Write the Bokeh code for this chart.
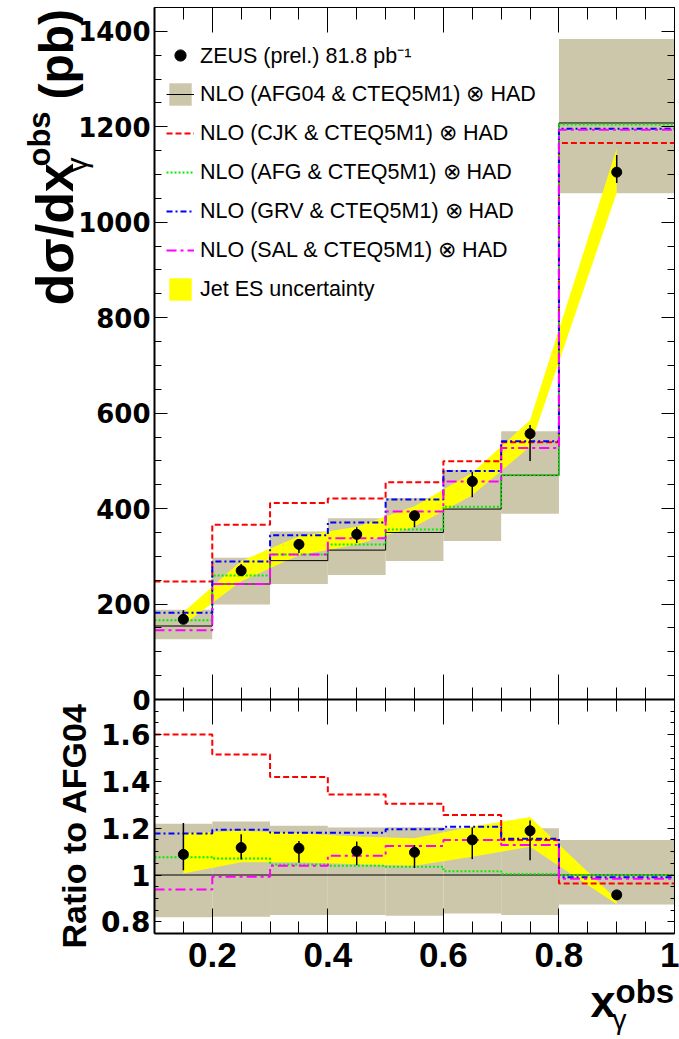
import math
from bokeh.plotting import figure
from bokeh.models import (Range1d, LinearAxis, SingleIntervalTicker, Label, Legend,
                          LegendItem, CustomJSTickFormatter)
from bokeh.embed import file_html
from bokeh.resources import INLINE

# ---------------- data ----------------
bin_edges = [0.1, 0.2, 0.3, 0.4, 0.5, 0.6, 0.7, 0.8, 1.0]
bin_centers = [0.15, 0.25, 0.35, 0.45, 0.55, 0.65, 0.75, 0.9]

zeus = [168, 270, 325, 346, 385, 457, 557, 1105]
zeus_err_up = [19, 14, 11, 15, 10, 20, 18, 36]
zeus_err_dn = [9, 12, 18, 18, 24, 33, 57, 23]

nlo_afg04 = [154, 242, 291, 313, 350, 399, 470, 1208]
nlo_afg04_up = [188, 297, 352, 380, 422, 481, 562, 1384]
nlo_afg04_dn = [126, 199, 242, 261, 290, 332, 389, 1061]
nlo_cjk = [247, 366, 412, 421, 455, 499, 539, 1166]
nlo_afg = [166, 260, 304, 325, 356, 404, 470, 1205]
nlo_grv = [182, 289, 344, 371, 419, 479, 541, 1196]
nlo_sal = [145, 242, 304, 338, 394, 457, 527, 1194]

jes_up = [183, 290, 342, 362, 405, 475, 585, 1155]
jes_dn = [156, 248, 302, 325, 362, 428, 530, 1062]

ratio_zeus = [1.088, 1.117, 1.114, 1.102, 1.097, 1.150, 1.189, 0.915]
ratio_err_up = [0.134, 0.057, 0.031, 0.041, 0.031, 0.053, 0.044, 0.010]
ratio_err_dn = [0.068, 0.051, 0.062, 0.060, 0.067, 0.082, 0.126, 0.010]
ratio_afg04 = [1.0, 1.0, 1.0, 1.0, 1.0, 1.0, 1.0, 1.0]
ratio_afg04_up = [1.219, 1.229, 1.210, 1.203, 1.204, 1.200, 1.200, 1.150]
ratio_afg04_dn = [0.819, 0.822, 0.829, 0.829, 0.826, 0.836, 0.829, 0.874]
ratio_cjk = [1.600, 1.515, 1.419, 1.344, 1.304, 1.256, 1.150, 0.964]
ratio_afg = [1.076, 1.070, 1.045, 1.039, 1.035, 1.016, 1.004, 1.000]
ratio_grv = [1.177, 1.193, 1.181, 1.181, 1.196, 1.206, 1.155, 0.990]
ratio_sal = [0.938, 0.993, 1.039, 1.082, 1.124, 1.150, 1.128, 0.984]
ratio_jes_up = [1.178, 1.189, 1.178, 1.164, 1.157, 1.207, 1.248, 0.895]
ratio_jes_dn = [1.006, 1.054, 1.054, 1.046, 1.039, 1.078, 1.121, 0.875]

legend_labels = [
    "ZEUS (prel.) 81.8 pb\u207b\u00b9",
    "NLO (AFG04 & CTEQ5M1) \u2297 HAD",
    "NLO (CJK & CTEQ5M1) \u2297 HAD",
    "NLO (AFG & CTEQ5M1) \u2297 HAD",
    "NLO (GRV & CTEQ5M1) \u2297 HAD",
    "NLO (SAL & CTEQ5M1) \u2297 HAD",
    "Jet ES uncertainty",
]
ytitle_main, ytitle_sup, ytitle_sub, ytitle_unit = "d\u03c3/dx", "obs", "\u03b3", "(pb)"
xtitle_main, xtitle_sup, xtitle_sub = "x", "obs", "\u03b3"
ratio_title = "Ratio to AFG04"

# ---------------- styles / geometry ----------------
TAN = "#ccc6aa"
YELLOW = "#ffff00"
SANS = "Liberation Sans"
TICKFONT = "DejaVu Sans"

W, H = 679, 1039
X_LO, X_HI = 0.1, 1.0
TOP_LO, TOP_HI = 0, 1450
R_LO, R_HI = 0.75, 1.75

PX_L, PX_R = 154, 674          # frame of both panels, horizontally
PY_TOP, PY_MID, PY_BOT = 7, 699, 933

PX_PER_X = (PX_R - PX_L) / (X_HI - X_LO)
X_START = X_LO - PX_L / PX_PER_X
X_END = X_START + W / PX_PER_X
PX_PER_Y = (PY_MID - PY_TOP) / (TOP_HI - TOP_LO)
Y_START = TOP_LO - (H - PY_MID) / PX_PER_Y
Y_END = TOP_LO + PY_MID / PX_PER_Y
PX_PER_R = (PY_BOT - PY_MID) / (R_HI - R_LO)
R_START = R_LO - (H - PY_BOT) / PX_PER_R
R_END = R_HI + PY_MID / PX_PER_R


def dx(px):
    return X_START + px / PX_PER_X


def dy(py):
    return TOP_LO + (PY_MID - py) / PX_PER_Y


styles = {
    "afg04": dict(line_color="black", line_width=1),
    "cjk": dict(line_color="#ff0000", line_width=2, line_dash="6 3"),
    "afg": dict(line_color="#00ee00", line_width=2, line_dash="2 2"),
    "grv": dict(line_color="#0000ff", line_width=2, line_dash="6 3 2 3"),
    "sal": dict(line_color="#ff00ff", line_width=2, line_dash="10 4 3 4"),
}

dec_code = "var s = tick.toFixed(1); return s.endsWith('.0') ? s.slice(0, -2) : s;"


def step_y(vals):
    return list(vals) + [vals[-1]]


def make_axis(ticker, fixed, bounds, major_in, minor_in, width=1, code="return '';", rng="default"):
    ax = LinearAxis(ticker=ticker, fixed_location=fixed, bounds=bounds,
                    formatter=CustomJSTickFormatter(code=code),
                    major_tick_in=major_in, major_tick_out=0,
                    minor_tick_in=minor_in, minor_tick_out=0,
                    axis_line_color="black", axis_line_width=width,
                    major_tick_line_color="black", minor_tick_line_color="black",
                    major_label_text_color="black", y_range_name=rng)
    return ax


def xt():
    return SingleIntervalTicker(interval=0.2, num_minor_ticks=4)


p = figure(frame_width=W, frame_height=H, x_range=Range1d(X_START, X_END),
           y_range=Range1d(Y_START, Y_END), output_backend="svg", toolbar_location=None,
           min_border=0, x_axis_location=None, y_axis_location=None)
p.extra_y_ranges = {"ratio": Range1d(R_START, R_END)}
p.grid.visible = False
p.outline_line_color = None

# ---------------- top panel ----------------
r_band = p.quad(left=bin_edges[:-1], right=bin_edges[1:], bottom=nlo_afg04_dn, top=nlo_afg04_up,
                fill_color=TAN, line_color=None)
r_jes = p.varea(x=bin_centers, y1=jes_dn, y2=jes_up, fill_color=YELLOW)
r_afg04 = p.step(x=bin_edges, y=step_y(nlo_afg04), mode="after", **styles["afg04"])
r_cjk = p.step(x=bin_edges, y=step_y(nlo_cjk), mode="after", **styles["cjk"])
r_afg = p.step(x=bin_edges, y=step_y(nlo_afg), mode="after", **styles["afg"])
r_grv = p.step(x=bin_edges, y=step_y(nlo_grv), mode="after", **styles["grv"])
r_sal = p.step(x=bin_edges, y=step_y(nlo_sal), mode="after", **styles["sal"])
p.segment(x0=bin_centers, x1=bin_centers,
          y0=[v - e for v, e in zip(zeus, zeus_err_dn)],
          y1=[v + e for v, e in zip(zeus, zeus_err_up)], line_color="black", line_width=1.5)
r_pts = p.scatter(x=bin_centers, y=zeus, size=10, color="black")

y_left = make_axis(SingleIntervalTicker(interval=200, num_minor_ticks=4), X_LO, (TOP_LO, TOP_HI),
                   13, 7, width=2, code="return tick.toFixed(0);")
y_left.major_label_text_font = TICKFONT
y_left.major_label_text_font_style = "bold"
y_left.major_label_text_font_size = "26px"
y_left.major_label_standoff = 4
p.add_layout(y_left, "left")
p.add_layout(make_axis(SingleIntervalTicker(interval=200, num_minor_ticks=4), X_HI,
                       (TOP_LO, TOP_HI), 13, 7), "right")
p.add_layout(make_axis(xt(), TOP_LO, (X_LO, X_HI), 25, 12, width=2), "below")
p.add_layout(make_axis(xt(), TOP_HI, (X_LO, X_HI), 25, 12), "above")

legend = Legend(items=[
    LegendItem(label=legend_labels[0], renderers=[r_pts]),
    LegendItem(label=legend_labels[1], renderers=[r_band, r_afg04]),
    LegendItem(label=legend_labels[2], renderers=[r_cjk]),
    LegendItem(label=legend_labels[3], renderers=[r_afg]),
    LegendItem(label=legend_labels[4], renderers=[r_grv]),
    LegendItem(label=legend_labels[5], renderers=[r_sal]),
    LegendItem(label=legend_labels[6], renderers=[r_jes]),
], location=(166, H - 303), padding=0, margin=0, spacing=11, glyph_height=28, glyph_width=28,
    label_height=28, label_standoff=6, label_text_font=SANS, label_text_font_size="21.5px",
    label_text_color="black", background_fill_alpha=0, border_line_color=None)
p.add_layout(legend, "center")

# rotated titles: anchor = vertical centre of the text box (baseline - 0.3465 em)
rot = dict(angle=math.pi / 2, text_align="left", text_baseline="middle",
           text_color="black", text_font=SANS)
p.add_layout(Label(x=dx(73 - 0.3465 * 52), y=dy(305), text=ytitle_main, text_font_size="52px",
                   text_font_style="bold", **rot))
p.add_layout(Label(x=dx(50 - 0.3465 * 31), y=dy(166), text=ytitle_sup, text_font_size="31px",
                   text_font_style="bold", **rot))
p.add_layout(Label(x=dx(86 - 0.3465 * 30), y=dy(172), text=ytitle_sub, text_font_size="30px",
                   text_font_style="normal", **rot))
p.add_layout(Label(x=dx(73 - 0.3465 * 48), y=dy(99), text=ytitle_unit, text_font_size="48px",
                   text_font_style="bold", **rot))

# ---------------- ratio panel ----------------
RK = dict(y_range_name="ratio")
p.quad(left=bin_edges[:-1], right=bin_edges[1:], bottom=ratio_afg04_dn, top=ratio_afg04_up,
       fill_color=TAN, line_color=None, **RK)
p.varea(x=bin_centers, y1=ratio_jes_dn, y2=ratio_jes_up, fill_color=YELLOW, **RK)
p.step(x=bin_edges, y=step_y(ratio_afg04), mode="after", **styles["afg04"], **RK)
p.step(x=bin_edges, y=step_y(ratio_cjk), mode="after", **styles["cjk"], **RK)
p.step(x=bin_edges, y=step_y(ratio_afg), mode="after", **styles["afg"], **RK)
p.step(x=bin_edges, y=step_y(ratio_grv), mode="after", **styles["grv"], **RK)
p.step(x=bin_edges, y=step_y(ratio_sal), mode="after", **styles["sal"], **RK)
p.segment(x0=bin_centers, x1=bin_centers,
          y0=[v - e for v, e in zip(ratio_zeus, ratio_err_dn)],
          y1=[v + e for v, e in zip(ratio_zeus, ratio_err_up)], line_color="black",
          line_width=1.5, **RK)
p.scatter(x=bin_centers, y=ratio_zeus, size=10, color="black", **RK)

ry = make_axis(SingleIntervalTicker(interval=0.2, num_minor_ticks=4), X_LO, (R_LO, R_HI),
               7, 4, width=2, code=dec_code, rng="ratio")
ry.major_label_text_font = TICKFONT
ry.major_label_text_font_style = "bold"
ry.major_label_text_font_size = "28px"
ry.major_label_standoff = 4
p.add_layout(ry, "left")
p.add_layout(make_axis(SingleIntervalTicker(interval=0.2, num_minor_ticks=4), X_HI,
                       (R_LO, R_HI), 7, 4, rng="ratio"), "right")
rx = make_axis(xt(), R_LO, (X_LO, X_HI), 25, 12, width=2, code=dec_code, rng="ratio")
rx.major_label_text_font = SANS
rx.major_label_text_font_style = "bold"
rx.major_label_text_font_size = "35px"
rx.major_label_standoff = 9
p.add_layout(rx, "below")
p.add_layout(make_axis(xt(), R_HI, (X_LO, X_HI), 25, 12, rng="ratio"), "above")

p.add_layout(Label(x=dx(85 - 0.3465 * 34), y=dy(948), text=ratio_title, text_font_size="34px",
                   text_font_style="bold", **rot))

hor = dict(text_align="left", text_baseline="middle", text_color="black", text_font=SANS)
p.add_layout(Label(x=dx(590), y=dy(1017 - 0.3465 * 45), text=xtitle_main, text_font_size="45px",
                   text_font_style="bold", **hor))
p.add_layout(Label(x=dx(615), y=dy(1002 - 0.3465 * 33), text=xtitle_sup, text_font_size="33px",
                   text_font_style="bold", **hor))
p.add_layout(Label(x=dx(612), y=dy(1029 - 0.3465 * 28), text=xtitle_sub, text_font_size="28px",
                   text_font_style="normal", **hor))

open("out.html", "w").write(file_html(p, INLINE))
